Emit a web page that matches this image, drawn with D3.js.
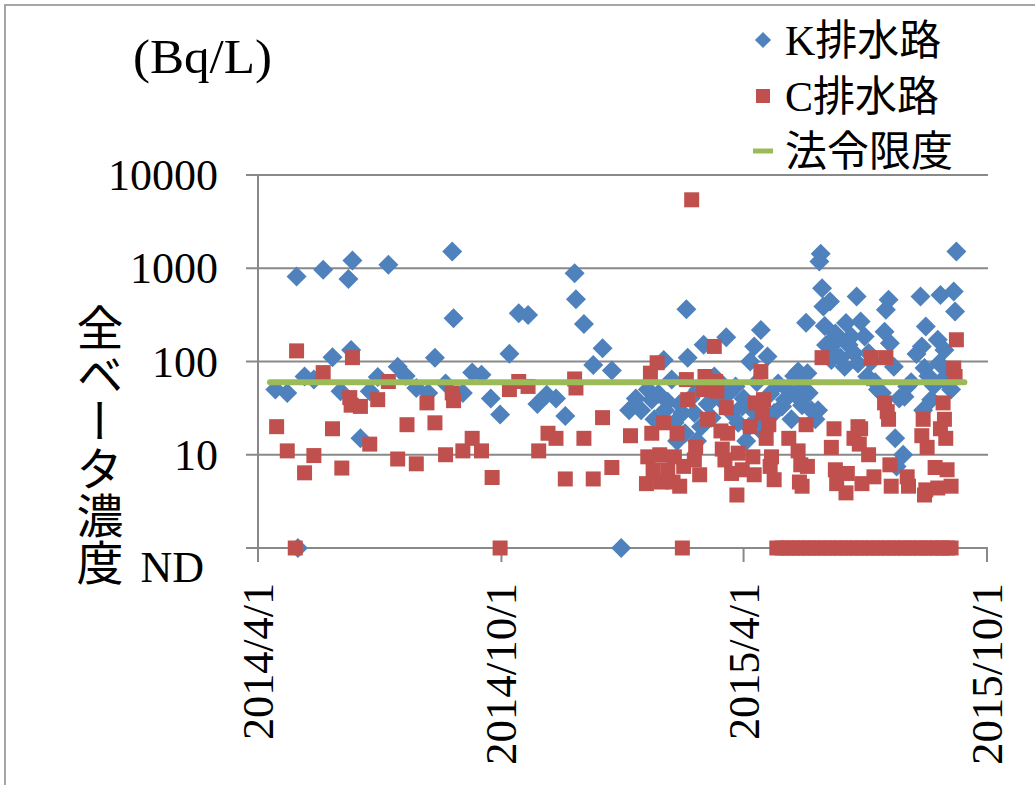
<!DOCTYPE html>
<html><head><meta charset="utf-8">
<script src="https://cdn.jsdelivr.net/npm/d3@7/dist/d3.min.js"></script>
<style>body{margin:0;background:#fff}svg{display:block}</style>
</head><body>
<svg id="chart" width="1035" height="785"></svg>
<script>
// ---------------- data ----------------
const kDates = ["2014-04-14","2014-04-23","2014-04-30","2014-05-01","2014-05-06","2014-05-13","2014-05-20","2014-05-27","2014-06-02","2014-06-08","2014-06-10","2014-06-11","2014-06-17","2014-06-24","2014-06-30","2014-07-08","2014-07-15","2014-07-21","2014-07-29","2014-08-07","2014-08-12","2014-08-20","2014-08-25","2014-08-26","2014-09-02","2014-09-09","2014-09-16","2014-09-23","2014-09-30","2014-10-07","2014-10-14","2014-10-21","2014-10-28","2014-11-04","2014-11-11","2014-11-18","2014-11-25","2014-11-26","2014-12-02","2014-12-09","2014-12-16","2014-12-23","2014-12-30","2015-01-05","2015-01-10","2015-01-14","2015-01-19","2015-01-22","2015-01-24","2015-01-27","2015-01-31","2015-02-01","2015-02-03","2015-02-06","2015-02-08","2015-02-10","2015-02-12","2015-02-14","2015-02-16","2015-02-17","2015-02-18","2015-02-20","2015-02-23","2015-02-25","2015-02-26","2015-02-28","2015-03-02","2015-03-05","2015-03-08","2015-03-10","2015-03-14","2015-03-17","2015-03-19","2015-03-21","2015-03-23","2015-03-26","2015-03-28","2015-03-31","2015-04-01","2015-04-03","2015-04-05","2015-04-06","2015-04-08","2015-04-09","2015-04-11","2015-04-12","2015-04-14","2015-04-16","2015-04-19","2015-04-21","2015-04-24","2015-04-27","2015-04-30","2015-05-02","2015-05-04","2015-05-07","2015-05-09","2015-05-10","2015-05-12","2015-05-14","2015-05-15","2015-05-18","2015-05-19","2015-05-20","2015-05-22","2015-05-25","2015-05-27","2015-05-28","2015-05-29","2015-05-30","2015-05-31","2015-06-01","2015-06-02","2015-06-04","2015-06-05","2015-06-06","2015-06-08","2015-06-09","2015-06-11","2015-06-13","2015-06-16","2015-06-17","2015-06-19","2015-06-21","2015-06-23","2015-06-25","2015-06-26","2015-06-28","2015-07-01","2015-07-03","2015-07-04","2015-07-06","2015-07-09","2015-07-11","2015-07-14","2015-07-16","2015-07-17","2015-07-19","2015-07-20","2015-07-23","2015-07-24","2015-07-25","2015-07-27","2015-07-30","2015-07-31","2015-08-02","2015-08-05","2015-08-09","2015-08-12","2015-08-13","2015-08-14","2015-08-15","2015-08-16","2015-08-18","2015-08-20","2015-08-22","2015-08-25","2015-08-26","2015-08-27","2015-08-29","2015-08-30","2015-09-02","2015-09-04","2015-09-06","2015-09-07","2015-09-08"];
const kValues = [50,46,815,"ND",69,64,961,111,48,769,133,1210,15,48,68,1087,88,70,52,46,110,58,1511,291,46,76,72,40,27,121,330,316,35,44,40,26,886,466,253,92,139,80,"ND",30,40,30,50,39,24,45,104,30,37,64,22,14,35,28,17,364,110,40,28,14,50,20,151,35,25,69,40,55,182,46,28,54,22,33,40,14,20,100,30,145,60,24,218,17,113,45,28,58,33,39,50,24,70,44,78,60,34,261,75,46,30,24,30,1180,1428,612,388,241,150,157,439,104,123,200,171,110,88,258,150,185,123,497,95,268,185,69,123,100,60,50,46,209,358,458,157,88,15,7.5,40,10,42,54,60,120,497,145,30,85,237,70,39,55,171,96,518,65,133,80,50,562,343,1511];

const cDates = ["2014-04-15","2014-04-23","2014-04-29","2014-04-30","2014-05-06","2014-05-13","2014-05-20","2014-05-27","2014-06-03","2014-06-09","2014-06-10","2014-06-11","2014-06-17","2014-06-24","2014-06-30","2014-07-08","2014-07-15","2014-07-22","2014-07-29","2014-08-06","2014-08-12","2014-08-20","2014-08-25","2014-08-26","2014-09-02","2014-09-09","2014-09-16","2014-09-24","2014-09-30","2014-10-07","2014-10-14","2014-10-21","2014-10-29","2014-11-05","2014-11-11","2014-11-18","2014-11-25","2014-11-26","2014-12-02","2014-12-09","2014-12-16","2014-12-23","2015-01-06","2015-01-18","2015-01-19","2015-01-21","2015-01-22","2015-01-23","2015-01-26","2015-01-28","2015-01-29","2015-01-31","2015-02-03","2015-02-07","2015-02-08","2015-02-10","2015-02-12","2015-02-14","2015-02-15","2015-02-17","2015-02-18","2015-02-21","2015-02-23","2015-02-24","2015-02-27","2015-03-02","2015-03-03","2015-03-05","2015-03-10","2015-03-11","2015-03-12","2015-03-15","2015-03-16","2015-03-18","2015-03-19","2015-03-20","2015-03-23","2015-03-27","2015-03-28","2015-03-31","2015-04-06","2015-04-08","2015-04-09","2015-04-10","2015-04-14","2015-04-15","2015-04-16","2015-04-18","2015-04-20","2015-04-21","2015-04-22","2015-04-24","2015-05-05","2015-05-12","2015-05-13","2015-05-14","2015-05-15","2015-05-18","2015-05-19","2015-05-30","2015-06-06","2015-06-08","2015-06-09","2015-06-10","2015-06-17","2015-06-18","2015-06-23","2015-06-26","2015-06-27","2015-06-28","2015-06-29","2015-07-04","2015-07-06","2015-07-08","2015-07-16","2015-07-17","2015-07-18","2015-07-19","2015-07-20","2015-07-21","2015-08-02","2015-08-03","2015-08-13","2015-08-14","2015-08-15","2015-08-16","2015-08-17","2015-08-23","2015-08-25","2015-08-27","2015-08-29","2015-08-30","2015-08-31","2015-09-01","2015-09-04","2015-09-06","2015-09-07","2015-09-08"];
const cValues = [20,11,"ND",130,6.4,9.8,76,19,7.2,41,34,110,33,13,39,61,9,21,8,36,22,10,46,38,11,15,11,5.7,"ND",50,61,54,11,17,15,5.5,65,52,15,5.5,25,7.3,16,4.9,9.5,75,17,6.9,97,10,5.1,22,6.9,5.1,9.5,17,4.6,"ND",7.5,64,39,5420,8.8,12,6.1,50,69,24,145,61,48,18,11.5,8.8,32,17,6.3,3.7,10.4,6.9,20,9.5,6.1,36,78,28,39,15,21,7.5,9.5,5.4,15,11,5.1,7.8,4.6,21,7.5,110,12,19,6.9,4.9,3.9,6.3,15,20,13,19,4.9,10,110,5.8,36,110,29,24,7.8,4.6,5.8,4.6,16,24,3.7,4.2,12,7.3,4.4,19,36,24,15,6.9,4.6,85,69,171];
// C drain: dates with "ND" (not detected) results
const cNDDates = ["2015-04-26","2015-04-30","2015-05-04","2015-05-08","2015-05-12","2015-05-16","2015-05-20","2015-05-24","2015-05-28","2015-06-01","2015-06-05","2015-06-09","2015-06-13","2015-06-17","2015-06-21","2015-06-25","2015-06-29","2015-07-03","2015-07-07","2015-07-11","2015-07-15","2015-07-19","2015-07-23","2015-07-27","2015-07-31","2015-08-04","2015-08-08","2015-08-12","2015-08-16","2015-08-20","2015-08-24","2015-08-28","2015-09-01","2015-09-04"];

const limitDates = ["2014-04-10","2015-09-14"];
const limitValue = 60;

const seriesNames = ["K排水路","C排水路","法令限度"];
const yTickValues = [1,10,100,1000,10000];
const yTickLabels = ["ND","10","100","1000","10000"];
const xTickDates = ["2014-04-01","2014-10-01","2015-04-01","2015-10-01"];
const xTickLabels = ["2014/4/1","2014/10/1","2015/4/1","2015/10/1"];

// ---------------- drawing ----------------
const parse = d3.timeParse("%Y-%m-%d");
const NDVAL = 1;
const toVal = v => v === "ND" ? NDVAL : v;

const kData = kDates.map((d,i)=>({date:parse(d), value:toVal(kValues[i])}));
const cData = cDates.map((d,i)=>({date:parse(d), value:toVal(cValues[i])}))
  .concat(cNDDates.map(d=>({date:parse(d), value:NDVAL})));
const limitData = limitDates.map(d=>({date:parse(d), value:limitValue}));

const BLUE="#4F81BD", RED="#C0504D", GREEN="#9BBB59", GRID="#898989";
const SERIF = "'Liberation Serif','Times New Roman',serif";
const MIXED = "'Liberation Serif','Noto Sans CJK JP',serif";

const svg = d3.select("#chart");
const L=258, R=987, T=175, B=548;

const x = d3.scaleTime().domain([parse(xTickDates[0]), parse(xTickDates[xTickDates.length-1])]).range([L,R]);
const y = d3.scaleLog().domain([1,10000]).range([B,T]);

// outer frame
svg.append("path").attr("d","M5,785 V5 H1035").attr("fill","none").attr("stroke","#a6a6a6").attr("stroke-width",2);

// gridlines
svg.append("g").selectAll("line").data(yTickValues).join("line")
  .attr("x1",246).attr("x2",R+1).attr("y1",d=>y(d)).attr("y2",d=>y(d))
  .attr("stroke",GRID).attr("stroke-width",2);
// vertical axis line
svg.append("line").attr("x1",L).attr("x2",L).attr("y1",T).attr("y2",B)
  .attr("stroke",GRID).attr("stroke-width",2);
// x ticks
svg.append("g").selectAll("line").data(xTickDates).join("line")
  .attr("x1",d=>x(parse(d))).attr("x2",d=>x(parse(d))).attr("y1",B).attr("y2",B+14)
  .attr("stroke",GRID).attr("stroke-width",2);

// y tick labels
svg.append("g").selectAll("text").data(yTickValues).join("text")
  .attr("x",(d,i)=> yTickLabels[i]==="ND" ? 204 : 218)
  .attr("y",(d,i)=> yTickLabels[i]==="ND" ? y(d)+34 : y(d)+15)
  .attr("text-anchor","end").attr("font-family",SERIF).attr("font-size",44).attr("fill","#000")
  .text((d,i)=>yTickLabels[i]);

// x tick labels (rotated)
svg.append("g").selectAll("text").data(xTickDates).join("text")
  .attr("transform",d=>`translate(${x(parse(d))+15},583) rotate(-90)`)
  .attr("text-anchor","end").attr("font-family",SERIF).attr("font-size",44).attr("fill","#000")
  .attr("textLength",(d,i)=> xTickLabels[i].length>=9 ? 182 : 157).attr("lengthAdjust","spacingAndGlyphs")
  .text((d,i)=>xTickLabels[i]);

// y axis title (vertical)
svg.append("text").attr("x",100).attr("y",304)
  .attr("font-family","'Noto Sans CJK JP',sans-serif").attr("font-size",47)
  .style("writing-mode","vertical-rl").style("text-orientation","upright")
  .attr("fill","#000").text("全ベータ濃度");

// unit
svg.append("text").attr("x",133).attr("y",73).attr("font-family",SERIF).attr("font-size",48)
  .attr("textLength",139).attr("lengthAdjust","spacingAndGlyphs")
  .attr("fill","#000").text("(Bq/L)");

// series K (diamonds)
const diamond = d3.symbol(d3.symbolSquare, 200);
svg.append("g").selectAll("path").data(kData).join("path")
  .attr("d",diamond).attr("transform",d=>`translate(${x(d.date)},${y(d.value)}) rotate(45)`)
  .attr("fill",BLUE);

// series C (squares)
const square = d3.symbol(d3.symbolSquare, 225);
svg.append("g").selectAll("path").data(cData).join("path")
  .attr("d",square).attr("transform",d=>`translate(${x(d.date)},${y(d.value)})`)
  .attr("fill",RED);

// legal limit line
svg.append("path").datum(limitData)
  .attr("d",d3.line().x(d=>x(d.date)).y(d=>y(d.value)))
  .attr("stroke",GREEN).attr("stroke-width",6).attr("stroke-linecap","round").attr("fill","none");

// legend
const lg = svg.append("g");
const rows = [40,96,151];
lg.append("path").attr("d",d3.symbol(d3.symbolSquare,130)).attr("transform",`translate(763,${rows[0]}) rotate(45)`).attr("fill",BLUE);
lg.append("path").attr("d",d3.symbol(d3.symbolSquare,196)).attr("transform",`translate(763,${rows[1]})`).attr("fill",RED);
lg.append("line").attr("x1",753).attr("x2",773).attr("y1",rows[2]).attr("y2",rows[2]).attr("stroke",GREEN).attr("stroke-width",5);
lg.selectAll("text").data(seriesNames).join("text")
  .attr("x",785).attr("y",(d,i)=>rows[i]+15)
  .attr("font-family",MIXED).attr("font-size",42).attr("fill","#000").text(d=>d);
</script>
</body></html>
